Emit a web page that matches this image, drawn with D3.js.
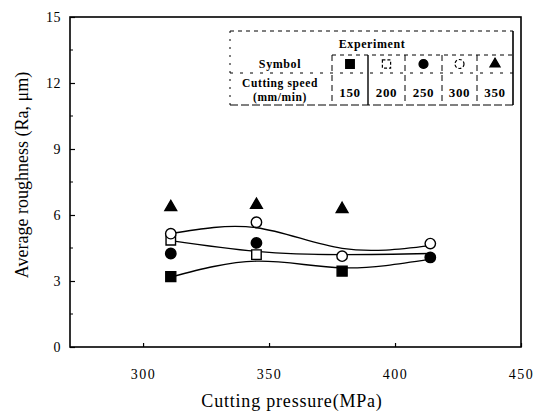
<!DOCTYPE html>
<html><head><meta charset="utf-8">
<script src="https://cdn.jsdelivr.net/npm/d3@7"></script>
<style>body{margin:0;background:#fff}</style></head><body>
<svg id="c" width="537" height="414"></svg>
<script>
const pressures=[311,345,379,414];
const speeds=[150,200,250,300,350];
const ra150=[3.2,null,3.45,null];
const ra200=[4.85,4.2,null,null];
const ra250=[4.25,4.73,null,4.07];
const ra300=[5.15,5.67,4.13,4.7];
const ra350=[6.36,6.46,6.27,null];
const fitTop=[5.15,5.42,4.48,4.61];
const fitMid=[4.84,4.35,4.2,4.25];
const fitLow=[3.18,3.9,3.6,3.99];
const yTicks=[0,3,6,9,12,15];
const yMinor=[1.5,4.5,7.5,10.5,13.5];
const xTicks=[300,350,400,450];

const svg=d3.select('#c');
const serif='"Liberation Serif","DejaVu Serif",serif';
const L=70,R=521,T=17,B=347;
const x=d3.scaleLinear().domain([271,450]).range([L,R]);
const y=d3.scaleLinear().domain([0,15]).range([B,T]);

// frame
svg.append('rect').attr('x',L).attr('y',T).attr('width',R-L).attr('height',B-T)
  .attr('fill','none').attr('stroke','#000').attr('stroke-width',1.6);

// y axis
const ya=svg.append('g').attr('transform',`translate(${L},0)`)
  .call(d3.axisLeft(y).tickValues(yTicks).tickSize(-5).tickPadding(9));
ya.select('.domain').remove();
ya.selectAll('text').attr('font-family',serif).attr('font-size',14).attr('fill','#000').attr('letter-spacing',0.5);
ya.selectAll('line').attr('stroke','#000').attr('stroke-width',1.2);
svg.append('g').selectAll('line').data(yMinor).join('line')
  .attr('x1',L).attr('x2',L+3).attr('y1',d=>y(d)).attr('y2',d=>y(d)).attr('stroke','#000');

// x axis
const xa=svg.append('g').attr('transform',`translate(0,${B})`)
  .call(d3.axisBottom(x).tickValues(xTicks).tickSize(-4).tickPadding(22));
xa.select('.domain').remove();
xa.selectAll('text').attr('font-family',serif).attr('font-size',14).attr('fill','#000').attr('letter-spacing',1.5);
xa.selectAll('line').attr('stroke','#000').attr('stroke-width',1.2);

// titles
svg.append('text').attr('x',292).attr('y',407).attr('text-anchor','middle')
  .attr('font-family',serif).attr('font-size',18).attr('letter-spacing',0.8).text('Cutting pressure(MPa)');
svg.append('text').attr('transform','translate(28,175) rotate(-90)').attr('text-anchor','middle')
  .attr('font-family',serif).attr('font-size',18).text('Average roughness (Ra, μm)');

// fit curves
const line=d3.line().x((d,i)=>x(pressures[i])).y(d=>y(d)).curve(d3.curveNatural);
[fitTop,fitMid,fitLow].forEach(f=>{
  svg.append('path').attr('d',line(f)).attr('fill','none').attr('stroke','#000').attr('stroke-width',1.3);
});

// markers
const series=[
  {v:ra150,type:d3.symbolSquare,size:100,fill:'#000'},
  {v:ra200,type:d3.symbolSquare,size:90,fill:'#fff'},
  {v:ra250,type:d3.symbolCircle,size:85,fill:'#000'},
  {v:ra300,type:d3.symbolCircle,size:85,fill:'#fff'},
  {v:ra350,type:d3.symbolTriangle,size:60,fill:'#000'}
];
series.forEach(s=>{
  svg.append('g').selectAll('path').data(s.v.map((v,i)=>({v,i})).filter(d=>d.v!=null)).join('path')
    .attr('transform',d=>`translate(${x(pressures[d.i])},${y(d.v)})`)
    .attr('d',d3.symbol().type(s.type).size(s.size)())
    .attr('fill',s.fill).attr('stroke','#000').attr('stroke-width',1.4);
});

// legend table
const lg=svg.append('g').attr('stroke','#000').attr('stroke-width',1).attr('fill','none');
const cellX=[332,368,405,442,477,513];
const dash='4,4';
lg.append('line').attr('x1',230).attr('x2',513).attr('y1',31).attr('y2',31).attr('stroke-dasharray',dash);
lg.append('line').attr('x1',230).attr('x2',230).attr('y1',31).attr('y2',105).attr('stroke-dasharray','2,6');
lg.append('line').attr('x1',513).attr('x2',513).attr('y1',31).attr('y2',105).attr('stroke-width',1.6);
lg.append('line').attr('x1',230).attr('x2',513).attr('y1',105).attr('y2',105).attr('stroke-dasharray','8,3');
lg.append('line').attr('x1',332).attr('x2',513).attr('y1',55).attr('y2',55).attr('stroke-dasharray',dash);
lg.append('line').attr('x1',230).attr('x2',513).attr('y1',73).attr('y2',73).attr('stroke-dasharray','3,7');
cellX.slice(0,5).forEach((cx,i)=>{
  lg.append('line').attr('x1',cx).attr('x2',cx).attr('y1',55).attr('y2',105)
    .attr('stroke-dasharray',i===1?null:'6,4').attr('stroke-width',i===1?1.4:1);
});
const tf=svg.append('g').attr('font-family',serif).attr('font-weight','bold').attr('font-size',12).attr('text-anchor','middle').attr('letter-spacing',0.6);
tf.append('text').attr('x',372).attr('y',48).text('Experiment');
tf.append('text').attr('x',280).attr('y',68).text('Symbol');
tf.append('text').attr('x',280).attr('y',87).attr('font-size',11.5).text('Cutting speed');
tf.append('text').attr('x',280).attr('y',101).attr('font-size',11.5).text('(mm/min)');
speeds.forEach((sp,i)=>{
  const cx=(cellX[i]+cellX[i+1])/2;
  tf.append('text').attr('x',cx).attr('y',97).attr('font-size',13).text(sp);
  const s=series[i];
  svg.append('path').attr('transform',`translate(${cx},${64})`)
    .attr('d',d3.symbol().type(s.type).size(s.size*0.75)())
    .attr('fill',s.fill).attr('stroke','#000').attr('stroke-width',1.2)
    .attr('stroke-dasharray',s.fill==='#fff'?'3,2':null);
});
</script>
</body></html>
